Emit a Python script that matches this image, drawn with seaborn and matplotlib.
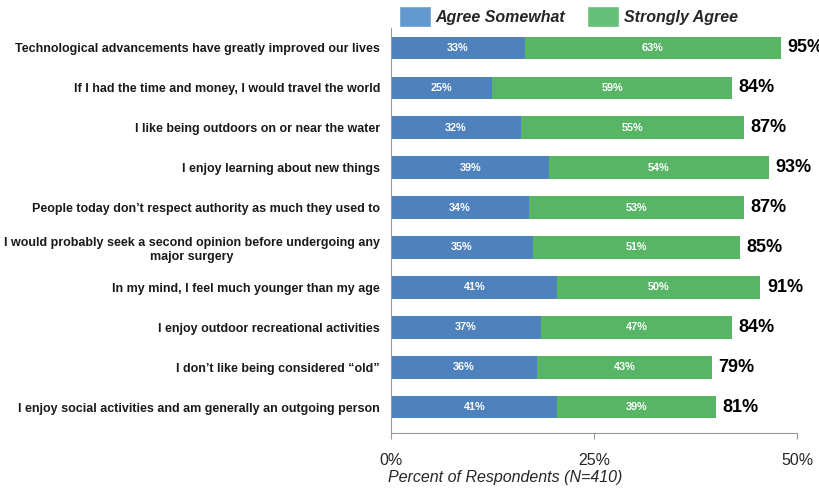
import matplotlib
matplotlib.use("Agg")
import matplotlib.pyplot as plt
import seaborn as sns
import pandas as pd
from matplotlib.patches import Patch

categories = [
    "Technological advancements have greatly improved our lives",
    "If I had the time and money, I would travel the world",
    "I like being outdoors on or near the water",
    "I enjoy learning about new things",
    "People today don\u2019t respect authority as much they used to",
    "I would probably seek a second opinion before undergoing any\nmajor surgery",
    "In my mind, I feel much younger than my age",
    "I enjoy outdoor recreational activities",
    "I don\u2019t like being considered \u201cold\u201d",
    "I enjoy social activities and am generally an outgoing person",
]
agree_somewhat = [33, 25, 32, 39, 34, 35, 41, 37, 36, 41]
strongly_agree = [63, 59, 55, 54, 53, 51, 50, 47, 43, 39]
totals = [95, 84, 87, 93, 87, 85, 91, 84, 79, 81]
tick_values = [0, 50, 100]
tick_labels = ["0%", "25%", "50%"]

blue = "#4F81BD"
green = "#57B565"

sns.set_theme(style="white")
plt.rcParams["font.family"] = ["Liberation Sans", "DejaVu Sans"]

df = pd.DataFrame({
    "cat": categories,
    "somewhat": agree_somewhat,
    "strong": strongly_agree,
    "total": totals,
})
df["stack"] = df["somewhat"] + df["strong"]

fig = plt.figure(figsize=(8.19, 4.90), dpi=100)
ax = fig.add_axes([0.4774, 0.1163, 0.4957, 0.8265])

sns.barplot(data=df, x="stack", y="cat", orient="h", color=green,
            saturation=1, width=0.57, linewidth=0, ax=ax)
sns.barplot(data=df, x="somewhat", y="cat", orient="h", color=blue,
            saturation=1, width=0.57, linewidth=0, ax=ax)

for i, r in df.iterrows():
    ax.text(r["somewhat"] / 2, i, f"{r['somewhat']}%", ha="center", va="center",
            color="white", fontsize=7.8, fontweight="bold")
    ax.text(r["somewhat"] + r["strong"] / 2, i, f"{r['strong']}%", ha="center",
            va="center", color="white", fontsize=7.8, fontweight="bold")
    ax.text(r["stack"] + 1.6, i, f"{r['total']}%", ha="left", va="center",
            color="black", fontsize=13, fontweight="bold", clip_on=False)

ax.set_xlim(0, 100)
ax.set_ylim(9.65, -0.5)
ax.set_xticks(tick_values)
ax.set_xticklabels(tick_labels, fontsize=11.5)
ax.tick_params(axis="x", bottom=True, length=4, color="#999999", width=0.8, pad=10.5)
ax.tick_params(axis="y", left=False, length=0, pad=8)
for lbl in ax.get_yticklabels():
    lbl.set_fontsize(9)
    lbl.set_fontweight("bold")
    lbl.set_multialignment("center")
    lbl.set_color("#1a1a1a")
ax.set_ylabel("")
ax.set_xlabel("Percent of Respondents (N=410)", fontsize=11.5, fontstyle="italic",
              ha="left", va="center")
ax.xaxis.set_label_coords(-0.008, -0.111)
for s in ["top", "right"]:
    ax.spines[s].set_visible(False)
for s in ["left", "bottom"]:
    ax.spines[s].set_color("#999999")
    ax.spines[s].set_linewidth(0.8)

handles = [Patch(facecolor="#6399CC", label="Agree Somewhat"),
           Patch(facecolor="#66C07A", label="Strongly Agree")]
leg = fig.legend(handles=handles, loc="upper left", bbox_to_anchor=(0.487, 0.988),
                 ncol=2, frameon=False, handlelength=2.0, handleheight=1.65,
                 handletextpad=0.3, columnspacing=1.35, borderpad=0,
                 borderaxespad=0,
                 prop={"size": 11.5, "weight": "bold", "style": "italic"})

fig.savefig("out.png", dpi=100)
